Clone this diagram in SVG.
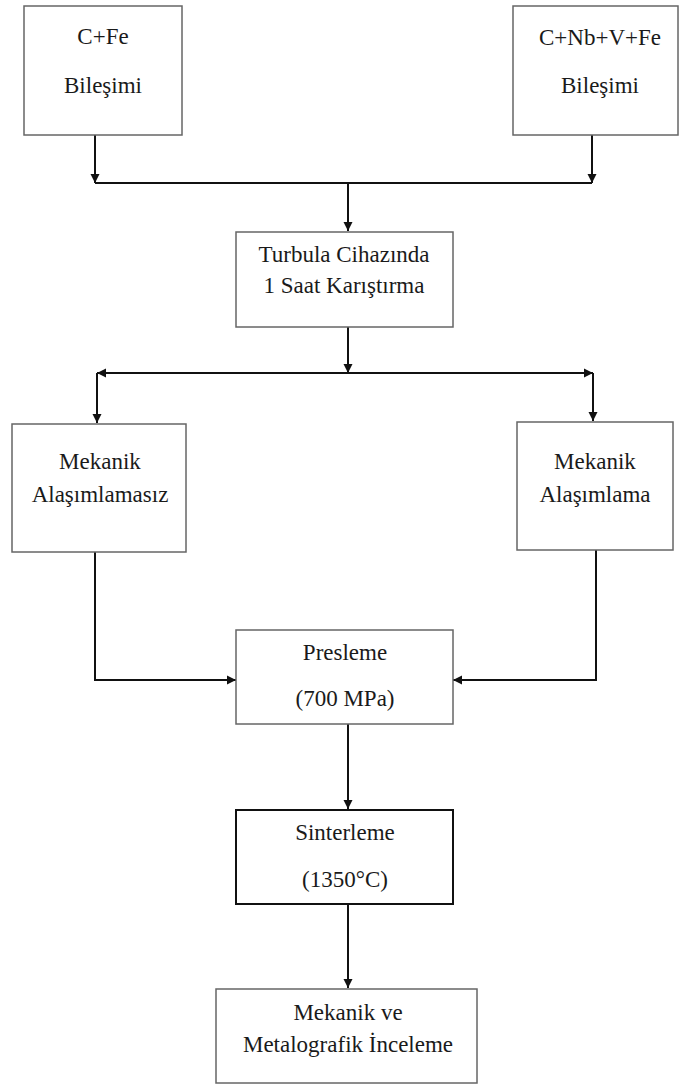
<svg xmlns="http://www.w3.org/2000/svg" width="679" height="1084" viewBox="0 0 679 1084">
<style>
.box{fill:#fff;stroke:#666;stroke-width:1.5}
.boxd{fill:#fff;stroke:#111;stroke-width:2}
.t{font-family:'Liberation Serif','Times New Roman',serif;font-size:23px;fill:#1a1a1a;text-anchor:middle}
.c{fill:none;stroke:#111;stroke-width:2}
</style>
<defs>
<marker id="ah" viewBox="0 0 10 10" refX="10" refY="5" markerWidth="9" markerHeight="10" markerUnits="userSpaceOnUse" orient="auto">
<path d="M0,0 L10,5 L0,10 z" fill="#111"/>
</marker>
</defs>
<g id="connectors">
<line class="c" x1="95" y1="135" x2="95" y2="183" marker-end="url(#ah)"/>
<line class="c" x1="592" y1="135" x2="592" y2="183" marker-end="url(#ah)"/>
<line class="c" x1="95" y1="183" x2="592" y2="183"/>
<line class="c" x1="348" y1="183" x2="348" y2="231" marker-end="url(#ah)"/>
<line class="c" x1="348" y1="327" x2="348" y2="373" marker-end="url(#ah)"/>
<line class="c" x1="348" y1="373" x2="97" y2="373" marker-end="url(#ah)"/>
<line class="c" x1="348" y1="373" x2="593" y2="373" marker-end="url(#ah)"/>
<line class="c" x1="97" y1="373" x2="97" y2="423" marker-end="url(#ah)"/>
<line class="c" x1="593" y1="373" x2="593" y2="421" marker-end="url(#ah)"/>
<polyline class="c" points="95,552 95,680 236,680" marker-end="url(#ah)"/>
<polyline class="c" points="596,550 596,680 453,680" marker-end="url(#ah)"/>
<line class="c" x1="348" y1="724" x2="348" y2="809" marker-end="url(#ah)"/>
<line class="c" x1="348" y1="904" x2="348" y2="988" marker-end="url(#ah)"/>
</g>
<g id="n1">
<rect class="box" x="24" y="6" width="158" height="129"/>
<text class="t" x="103" y="44">C+Fe</text>
<text class="t" x="103" y="93">Bileşimi</text>
</g>
<g id="n2">
<rect class="box" x="513" y="6" width="165" height="129"/>
<text class="t" x="600" y="45">C+Nb+V+Fe</text>
<text class="t" x="600" y="93">Bileşimi</text>
</g>
<g id="n3">
<rect class="box" x="236" y="232" width="217" height="95"/>
<text class="t" x="344" y="262">Turbula  Cihazında</text>
<text class="t" x="344" y="293">1 Saat Karıştırma</text>
</g>
<g id="n4">
<rect class="box" x="12" y="424" width="174" height="128"/>
<text class="t" x="100" y="469">Mekanik</text>
<text class="t" x="100" y="502">Alaşımlamasız</text>
</g>
<g id="n5">
<rect class="box" x="517" y="422" width="156" height="128"/>
<text class="t" x="595" y="469">Mekanik</text>
<text class="t" x="595" y="502">Alaşımlama</text>
</g>
<g id="n6">
<rect class="box" x="236" y="630" width="217" height="94"/>
<text class="t" x="345" y="660">Presleme</text>
<text class="t" x="345" y="706">(700 MPa)</text>
</g>
<g id="n7">
<rect class="boxd" x="236" y="810" width="217" height="94"/>
<text class="t" x="345" y="840">Sinterleme</text>
<text class="t" x="345" y="887">(1350°C)</text>
</g>
<g id="n8">
<rect class="box" x="216" y="989" width="261" height="94"/>
<text class="t" x="348" y="1020">Mekanik  ve</text>
<text class="t" x="348" y="1052">Metalografik  İnceleme</text>
</g>
</svg>
